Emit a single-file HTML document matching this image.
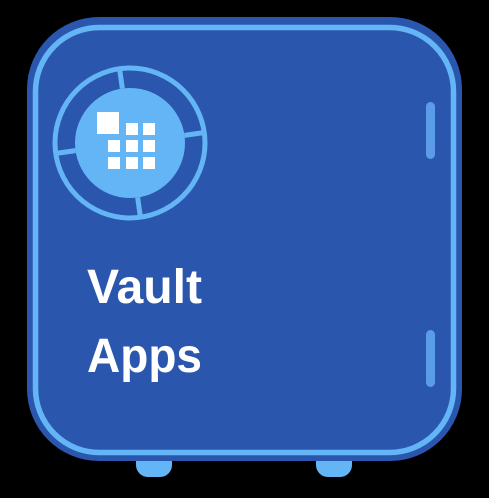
<!DOCTYPE html>
<html><head><style>
html,body{margin:0;padding:0;background:#000;}
svg{display:block}
</style></head><body>
<svg width="489" height="498" viewBox="0 0 489 498" xmlns="http://www.w3.org/2000/svg">
<rect x="136" y="450" width="36" height="27" rx="12" fill="#64b5f6"/>
<rect x="316" y="450" width="36" height="27" rx="12" fill="#64b5f6"/>
<rect x="27" y="17" width="435" height="444" rx="72" fill="#2b56ae"/>
<rect x="35.5" y="27.5" width="418" height="425" rx="64" fill="none" stroke="#64b5f6" stroke-width="5.5"/>
<rect x="426" y="102" width="9" height="57" rx="4.5" fill="#5b9ce9"/>
<rect x="426" y="330" width="9" height="57" rx="4.5" fill="#5b9ce9"/>
<circle cx="130" cy="143" r="75" fill="none" stroke="#64b5f6" stroke-width="5"/>
<circle cx="130" cy="143" r="55" fill="#64b5f6"/>
<g stroke="#64b5f6" stroke-width="5" transform="rotate(-8 130 143)">
<line x1="130" y1="88" x2="130" y2="66"/>
<line x1="130" y1="198" x2="130" y2="220"/>
<line x1="75" y1="143" x2="53" y2="143"/>
<line x1="185" y1="143" x2="207" y2="143"/>
</g>
<g fill="#fff">
<rect x="97" y="112" width="22" height="22"/>
<rect x="126" y="123" width="12" height="12"/>
<rect x="143" y="123" width="12" height="12"/>
<rect x="108" y="140" width="12" height="12"/>
<rect x="126" y="140" width="12" height="12"/>
<rect x="143" y="140" width="12" height="12"/>
<rect x="108" y="157" width="12" height="12"/>
<rect x="126" y="157" width="12" height="12"/>
<rect x="143" y="157" width="12" height="12"/>
</g>
<text x="87" y="303" font-family="Liberation Sans, sans-serif" font-weight="bold" font-size="48" fill="#fff" textLength="115" lengthAdjust="spacingAndGlyphs">Vault</text>
<text x="87" y="372" font-family="Liberation Sans, sans-serif" font-weight="bold" font-size="48" fill="#fff" textLength="115" lengthAdjust="spacingAndGlyphs">Apps</text>
</svg>
</body></html>
